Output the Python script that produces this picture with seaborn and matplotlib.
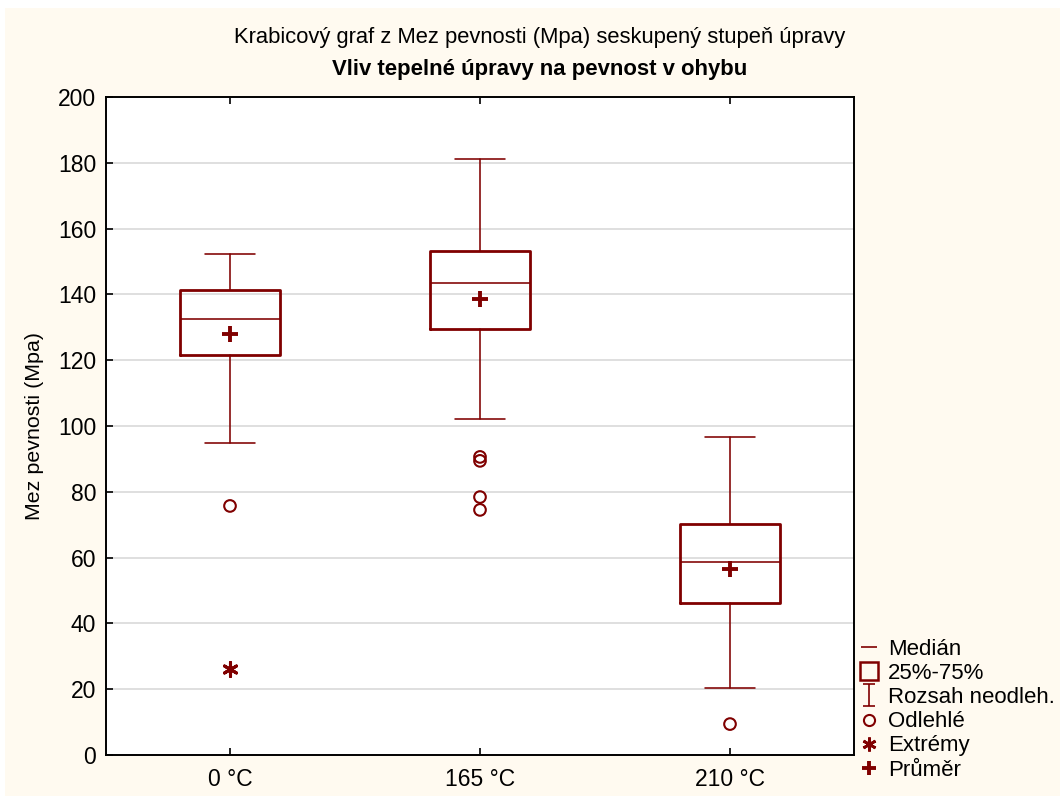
import numpy as np
import pandas as pd
import matplotlib
matplotlib.use("Agg")
import matplotlib.pyplot as plt
from matplotlib.lines import Line2D
from matplotlib.path import Path
from matplotlib.patches import Rectangle
import seaborn as sns

# Summary statistics of bending strength per heat-treatment level
categories = ["0 °C", "165 °C", "210 °C"]
whisker_low = [94.8, 102.1, 20.4]
q1 = [121.6, 129.4, 46.2]
median = [132.4, 143.6, 58.7]
q3 = [141.3, 153.3, 70.2]
whisker_high = [152.3, 181.2, 96.7]
means = [127.9, 138.5, 56.5]
outliers = [[75.7], [90.6, 89.4, 78.4, 74.5], [9.4]]
extremes = [[26.1], [], []]

DARK = "#800000"
CREAM = "#fffaf0"

sns.set_style("white")
plt.rcParams["font.family"] = ["Liberation Sans", "DejaVu Sans"]
plt.rcParams["text.color"] = "black"
plt.rcParams["axes.labelcolor"] = "black"

W, H = 1060, 796
fig = plt.figure(figsize=(W / 100, H / 100), dpi=100, facecolor="white")
fig.patches.append(Rectangle((5 / W, 0), 1, 1 - 8 / H, transform=fig.transFigure,
                             facecolor=CREAM, edgecolor="none", zorder=-10))

ax = fig.add_axes([106 / W, (H - 755) / H, (854 - 106) / W, (755 - 97) / H])
ax.set_facecolor("white")

positions = np.arange(len(categories))

# Boxes and whiskers from the summary statistics
stats = [
    dict(med=median[i], q1=q1[i], q3=q3[i], whislo=whisker_low[i],
         whishi=whisker_high[i], fliers=[], label=categories[i])
    for i in range(len(categories))
]
ax.bxp(stats, positions=positions, widths=0.4, showfliers=False, showmeans=False,
       boxprops=dict(color=DARK, linewidth=2.0),
       whiskerprops=dict(color=DARK, linewidth=1.15),
       capprops=dict(color=DARK, linewidth=1.15),
       medianprops=dict(color=DARK, linewidth=1.15),
       manage_ticks=False, zorder=3)

# Outliers, extremes and means as points
out_df = pd.DataFrame([(positions[i], v) for i, vals in enumerate(outliers) for v in vals],
                      columns=["pos", "value"])
ext_df = pd.DataFrame([(positions[i], v) for i, vals in enumerate(extremes) for v in vals],
                      columns=["pos", "value"])
mean_df = pd.DataFrame({"pos": positions, "value": means})

sns.scatterplot(data=out_df, x="pos", y="value", ax=ax, marker="o", s=70,
                facecolor="none", edgecolor=DARK, linewidth=1.5, zorder=4)
sns.scatterplot(data=ext_df, x="pos", y="value", ax=ax, marker=(6, 2, 0), s=100,
                color=DARK, edgecolor=DARK, linewidth=2.2, zorder=4)
sns.scatterplot(data=mean_df, x="pos", y="value", ax=ax, marker="+", s=120,
                color=DARK, edgecolor=DARK, linewidth=2.8, zorder=5)

ax.set_xlim(-0.496, 2.496)
ax.set_ylim(0, 200)
ax.set_xticks(positions)
ax.set_xticklabels(categories)
ax.set_yticks(np.arange(0, 201, 20))
ax.yaxis.grid(True, color="#d9d9d9", linewidth=1.2)
ax.xaxis.grid(False)
ax.set_axisbelow(True)
ax.set_xlabel("")
ax.set_ylabel("Mez pevnosti (Mpa)", fontsize=15.4, labelpad=10, color="black")
ax.tick_params(axis="both", direction="in", length=5, width=1.2, colors="black",
               labelcolor="black", labelsize=16.5, pad=7)
ax.tick_params(axis="x", top=True, bottom=True, pad=9)
ax.tick_params(axis="y", left=True, right=False)
for sp in ax.spines.values():
    sp.set_color("black")
    sp.set_linewidth(1.4)
    sp.set_visible(True)

# Titles
fig.text(540 / W, 1 - 38 / H, "Krabicový graf z Mez pevnosti (Mpa) seskupený stupeň úpravy",
         ha="center", va="center", fontsize=15.8, color="black")
fig.text(540 / W, 1 - 69 / H, "Vliv tepelné úpravy na pevnost v ohybu",
         ha="center", va="center", fontsize=15.9, fontweight="bold", color="black")

# Legend
whisk_path = Path([(-0.5, 1), (0.5, 1), (0, 1), (0, -1), (-0.5, -1), (0.5, -1)],
                  [Path.MOVETO, Path.LINETO, Path.MOVETO, Path.LINETO, Path.MOVETO, Path.LINETO])
handles = [
    Line2D([], [], color=DARK, linestyle="none", marker="_", markersize=12, markeredgewidth=1.2),
    Line2D([], [], color=DARK, linestyle="none", marker="s", markersize=13,
           markerfacecolor="none", markeredgewidth=1.8),
    Line2D([], [], color=DARK, linestyle="none", marker=whisk_path, markersize=16.5,
           markeredgewidth=1.2),
    Line2D([], [], color=DARK, linestyle="none", marker="o", markersize=8,
           markerfacecolor="none", markeredgewidth=1.5),
    Line2D([], [], color=DARK, linestyle="none", marker=(6, 2, 0), markersize=10,
           markeredgewidth=2.0),
    Line2D([], [], color=DARK, linestyle="none", marker="+", markersize=10,
           markeredgewidth=2.8),
]
labels = ["Medián", "25%-75%", "Rozsah neodleh.", "Odlehlé", "Extrémy", "Průměr"]
leg = fig.legend(handles, labels, loc="upper left", bbox_to_anchor=(858 / W, 1 - 639 / H),
                 frameon=False, fontsize=16, handlelength=1.0, handletextpad=0.36,
                 labelspacing=0.14, borderaxespad=0, borderpad=0)
for t in leg.get_texts():
    t.set_color("black")

fig.savefig("out.png", dpi=100, facecolor=fig.get_facecolor())
